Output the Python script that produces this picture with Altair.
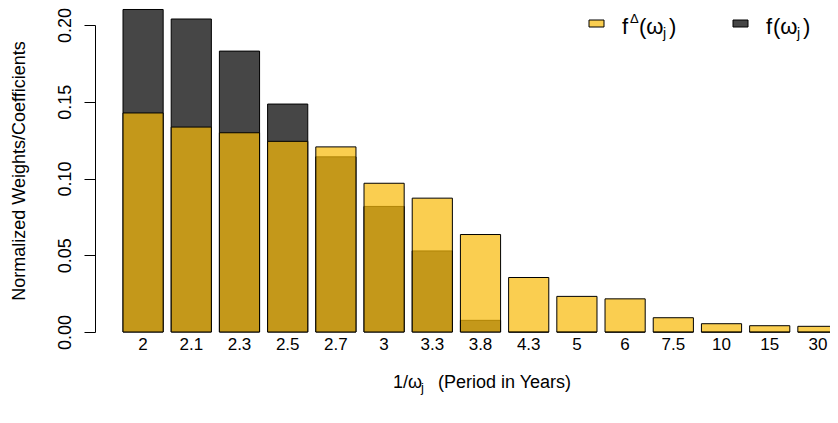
import altair as alt
import pandas as pd

# ---- data ----
periods = ["2", "2.1", "2.3", "2.5", "2.7", "3", "3.3", "3.8", "4.3", "5", "6", "7.5", "10", "15", "30"]
f_vals = [0.2101, 0.2039, 0.1830, 0.1485, 0.1141, 0.0818, 0.0528, 0.0076, 0, 0, 0, 0, 0, 0, 0]
f_delta_vals = [0.1427, 0.1335, 0.1298, 0.1242, 0.1206, 0.0969, 0.0872, 0.0635, 0.0355, 0.0232,
                0.0216, 0.0093, 0.0054, 0.0041, 0.0037]
y_ticks = [0.0, 0.05, 0.10, 0.15, 0.20]

YELLOW = "#F8BA08"
YELLOW_ALPHA = 0.71
DARK = "#464646"
FONT = "Liberation Sans"

df = pd.DataFrame({"period": periods, "f": f_vals, "f_delta": f_delta_vals})

# visible plot area is 707 px wide; the bar band runs to 715 px (cut at the page edge)
W, H = 707, 307
BAND_RANGE = [0, 715]

x_enc = alt.X(
    "period:N", sort=periods,
    scale=alt.Scale(paddingInner=0.2 / 1.2, paddingOuter=0, range=BAND_RANGE),
    axis=alt.Axis(title=None, domain=False, ticks=False, tickSize=0, labelAngle=0,
                  labelFontSize=17, labelBaseline="alphabetic", labelPadding=17,
                  labelFont=FONT, labelColor="black"),
)
y_scale = alt.Scale(domain=[0, 0.2], nice=False, zero=True)

dark_bars = alt.Chart(df).mark_bar(color=DARK, stroke="black", strokeWidth=1).encode(
    x=x_enc,
    y=alt.Y("f:Q", scale=y_scale,
            axis=alt.Axis(title=None, values=y_ticks, format=".2f", grid=False,
                          offset=28, tickSize=11, domainColor="black", tickColor="black",
                          labelAngle=270, labelAlign="center", labelBaseline="bottom",
                          labelPadding=10, labelFontSize=18, labelFont=FONT,
                          labelColor="black", labelFlush=False)),
)
yellow_bars = alt.Chart(df).mark_bar(color=YELLOW, fillOpacity=YELLOW_ALPHA, stroke="black",
                                     strokeWidth=1, strokeOpacity=1).encode(
    x=alt.X("period:N", sort=periods),
    y=alt.Y("f_delta:Q", scale=y_scale),
)


def txt(s, x, y, size, angle=0, align="left"):
    return alt.Chart(pd.DataFrame({"t": [s]})).mark_text(
        font=FONT, fontSize=size, angle=angle, align=align, baseline="alphabetic", color="black"
    ).encode(x=alt.value(x), y=alt.value(y), text="t:N")


def box(x0, x1, y0, y1, fill, opacity):
    return alt.Chart(pd.DataFrame({"k": [0]})).mark_rect(
        fill=fill, fillOpacity=opacity, stroke="black", strokeWidth=1
    ).encode(x=alt.value(x0), x2=alt.value(x1), y=alt.value(y0), y2=alt.value(y1))


decor = [
    # y-axis title
    txt("Normalized Weights/Coefficients", -98, 146, 18, angle=270, align="center"),
    # x-axis title: 1/ω_j  (Period in Years)
    txt("1/ω", 270, 363, 18),
    txt("j", 298, 367, 13),
    txt("(Period in Years)", 315, 363, 18),
    # legend entry 1: f^Δ(ω_j)
    box(466, 481, -5, 2, YELLOW, YELLOW_ALPHA),
    txt("f", 499, 9, 22),
    txt("Δ", 507, -2, 13),
    txt("(ω", 516, 9, 22),
    txt("j", 540, 13, 14),
    txt(")", 546, 9, 22),
    # legend entry 2: f(ω_j)
    box(610, 625, -5, 2, DARK, 1),
    txt("f", 643, 9, 22),
    txt("(ω", 650, 9, 22),
    txt("j", 674, 13, 14),
    txt(")", 680, 9, 22),
]

chart = alt.layer(dark_bars, yellow_bars, *decor).properties(
    width=W, height=H,
    autosize=alt.AutoSizeParams(type="none"),
    padding={"left": 115, "top": 17, "right": 0, "bottom": 68},
    background="white",
).configure_view(stroke=None)

chart.save("out.html", embed_options={"renderer": "svg", "actions": False})
